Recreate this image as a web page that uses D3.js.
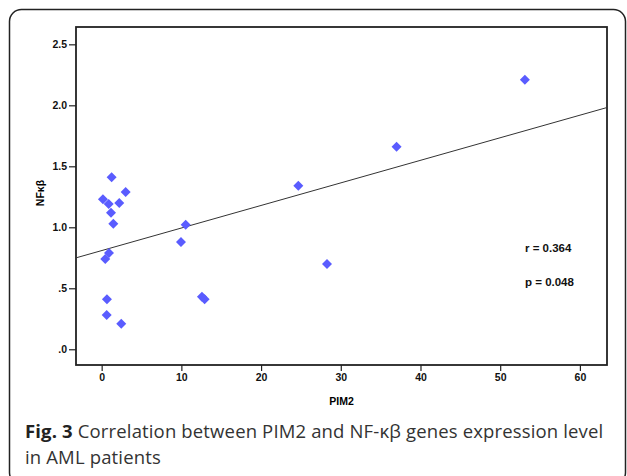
<!DOCTYPE html>
<html lang="en">
<head>
<meta charset="utf-8">
<title>PIM2 vs NFkb</title>
<script src="https://cdn.jsdelivr.net/npm/d3@7"></script>
<style>
  body { margin: 0; background: #fff; }
  .tick text { font-family: "Liberation Sans", Arial, sans-serif; font-weight: bold; font-size: 10.5px; fill: #111; }
</style>
</head>
<body>
<div id="chart"></div>
<script>
// values
var pim2 = [1.25, 0.16, 0.88, 1.17, 2.21, 3.01, 1.46, 10.54, 9.95, 0.45, 0.92, 0.66, 0.63, 2.46, 12.58, 12.92, 24.67, 37.0, 53.1, 28.27];
var nfkb = [1.41, 1.23, 1.19, 1.12, 1.20, 1.29, 1.03, 1.02, 0.88, 0.74, 0.79, 0.41, 0.28, 0.21, 0.43, 0.41, 1.34, 1.66, 2.21, 0.70];
var xTicks = [0, 10, 20, 30, 40, 50, 60];
var yTicks = [0, 0.5, 1.0, 1.5, 2.0, 2.5];
var fitCoef = [0.809, 0.0185];   // intercept, slope of the drawn fit line
var statLabels = ["r = 0.364", "p = 0.048"];

var W = 627, H = 476;
var box = { left: 76, top: 27, right: 607, bottom: 365 };

var svg = d3.select("#chart").append("svg")
    .attr("width", W).attr("height", H);

// outer rounded frame
svg.append("rect")
    .attr("x", 9.5).attr("y", 9.5)
    .attr("width", 616).attr("height", 475)
    .attr("rx", 12)
    .attr("fill", "none").attr("stroke", "#222").attr("stroke-width", 1.5);

var x = d3.scaleLinear().domain([-3.22, 63.4]).range([box.left, box.right]);
var y = d3.scaleLinear().domain([-0.129, 2.642]).range([box.bottom, box.top]);

// plot box
svg.append("rect")
    .attr("x", box.left).attr("y", box.top)
    .attr("width", box.right - box.left).attr("height", box.bottom - box.top)
    .attr("fill", "none").attr("stroke", "#222").attr("stroke-width", 1.8);

var yFmt = function (d) { return d3.format(".1f")(d).replace(/^0\./, "."); };

var xAxis = svg.append("g")
    .attr("transform", "translate(0," + box.bottom + ")")
    .call(d3.axisBottom(x).tickValues(xTicks).tickSize(6).tickPadding(3));
var yAxis = svg.append("g")
    .attr("transform", "translate(" + box.left + ",0)")
    .call(d3.axisLeft(y).tickValues(yTicks).tickFormat(yFmt).tickSize(7).tickPadding(2));
[xAxis, yAxis].forEach(function (g) {
    g.select(".domain").remove();
    g.selectAll(".tick line").attr("stroke", "#222").attr("stroke-width", 1.2);
});

// axis titles
svg.append("text")
    .attr("x", (box.left + box.right) / 2).attr("y", 405)
    .attr("text-anchor", "middle")
    .style("font-family", "Liberation Sans, Arial, sans-serif")
    .style("font-weight", "bold").style("font-size", "10.5px")
    .text("PIM2");
svg.append("text")
    .attr("transform", "translate(44," + ((box.top + box.bottom) / 2 - 3) + ") rotate(-90)")
    .attr("text-anchor", "middle")
    .style("font-family", "Liberation Sans, Arial, sans-serif")
    .style("font-weight", "bold").style("font-size", "10.5px")
    .text("NFκβ");

// fit line across the whole box
var xd = x.domain();
svg.append("line")
    .attr("x1", x(xd[0])).attr("y1", y(fitCoef[0] + fitCoef[1] * xd[0]))
    .attr("x2", x(xd[1])).attr("y2", y(fitCoef[0] + fitCoef[1] * xd[1]))
    .attr("stroke", "#333").attr("stroke-width", 1);

// points
var diamond = d3.symbol().type(d3.symbolSquare).size(50);
svg.selectAll("path.pt")
    .data(d3.range(pim2.length))
    .enter().append("path")
    .attr("class", "pt")
    .attr("d", diamond)
    .attr("transform", function (i) {
        return "translate(" + x(pim2[i]) + "," + y(nfkb[i]) + ") rotate(45)";
    })
    .attr("fill", "#5a5cff");

// stats
svg.selectAll("text.stat")
    .data(statLabels)
    .enter().append("text")
    .attr("class", "stat")
    .attr("x", 525)
    .attr("y", function (d, i) { return 252 + i * 34; })
    .style("font-family", "Liberation Sans, Arial, sans-serif")
    .style("font-weight", "bold").style("font-size", "11.5px")
    .style("fill", "#111")
    .text(function (d) { return d; });

// caption
var capStyle = function (t) {
    t.style("font-family", "Open Sans, sans-serif")
     .style("font-size", "18.5px").style("letter-spacing", "0.15px")
     .style("fill", "#333");
};
var cap = svg.append("text").attr("x", 25).attr("y", 438).call(capStyle);
cap.append("tspan").style("font-weight", "bold").style("fill", "#222").text("Fig. 3");
cap.append("tspan").text(" Correlation between PIM2 and NF-κβ genes expression level");
svg.append("text").attr("x", 25).attr("y", 464).call(capStyle)
    .text("in AML patients");
</script>
</body>
</html>
